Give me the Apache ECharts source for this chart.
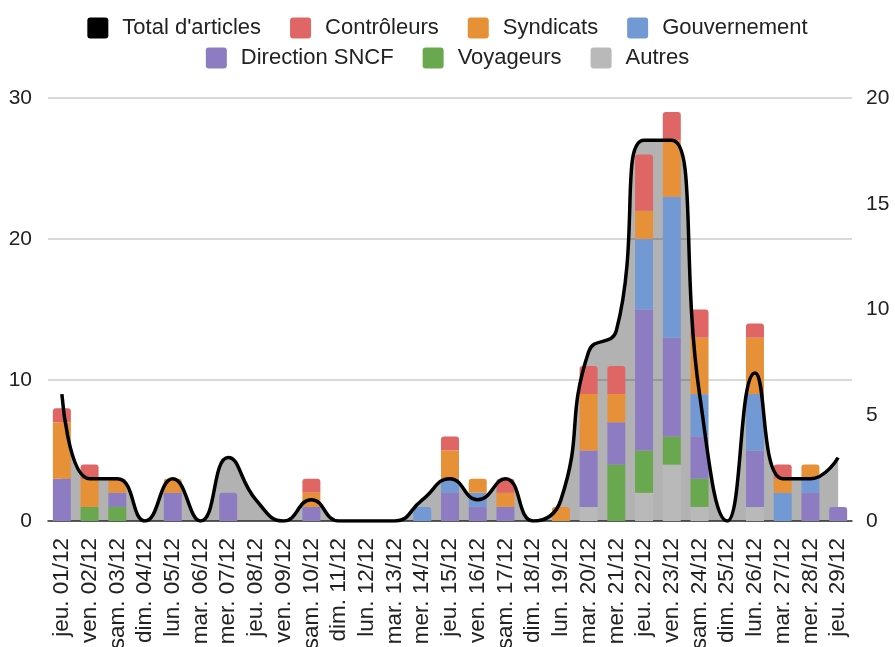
<!DOCTYPE html>
<html>
<head>
<meta charset="utf-8">
<script src="https://cdn.jsdelivr.net/npm/echarts@6/dist/echarts.min.js"></script>
<style>
html,body{margin:0;padding:0;background:#fff;}
#chart{width:895px;height:647px;}
</style>
</head>
<body>
<div id="chart"></div>
<script>
const categories = ["jeu. 01/12","ven. 02/12","sam. 03/12","dim. 04/12","lun. 05/12","mar. 06/12","mer. 07/12","jeu. 08/12","ven. 09/12","sam. 10/12","dim. 11/12","lun. 12/12","mar. 13/12","mer. 14/12","jeu. 15/12","ven. 16/12","sam. 17/12","dim. 18/12","lun. 19/12","mar. 20/12","mer. 21/12","jeu. 22/12","ven. 23/12","sam. 24/12","dim. 25/12","lun. 26/12","mar. 27/12","mer. 28/12","jeu. 29/12"];

const totalArticles = [6,2,2,0,2,0,3,1,0,1,0,0,0,1,2,1,2,0,1,8,9,18,18,6,0,7,2,2,3];

const controleurs  = [1,1,0,0,0,0,0,0,0,1,0,0,0,0,1,0,1,0,0,2,2,4,2,2,0,1,1,0,0];
const syndicats    = [4,2,1,0,1,0,0,0,0,1,0,0,0,0,2,1,1,0,1,4,2,2,4,4,0,4,1,1,0];
const gouvernement = [0,0,0,0,0,0,0,0,0,0,0,0,0,1,1,1,0,0,0,0,0,5,10,3,0,4,2,1,0];
const direction    = [3,0,1,0,2,0,2,0,0,1,0,0,0,0,2,1,1,0,0,4,3,10,7,3,0,4,0,2,1];
const voyageurs    = [0,1,1,0,0,0,0,0,0,0,0,0,0,0,0,0,0,0,0,0,4,3,2,2,0,0,0,0,0];
const autres       = [0,0,0,0,0,0,0,0,0,0,0,0,0,0,0,0,0,0,0,1,0,2,4,1,0,1,0,0,0];

const leftTicks = {min: 0, max: 30, interval: 10};
const rightTicks = {min: 0, max: 20, interval: 5};

const FONT = "'Liberation Sans', Arial, sans-serif";

// bottom-to-top stacking order
const stackDefs = [
  {name: 'Autres', data: autres, color: '#b9b9b9'},
  {name: 'Voyageurs', data: voyageurs, color: '#6aa84f'},
  {name: 'Direction SNCF', data: direction, color: '#8e7cc3'},
  {name: 'Gouvernement', data: gouvernement, color: '#7299d4'},
  {name: 'Syndicats', data: syndicats, color: '#e69138'},
  {name: 'Contrôleurs', data: controleurs, color: '#e06666'}
];

// find the top non-zero segment per category to round it
const topIndex = categories.map((c, i) => {
  let t = -1;
  stackDefs.forEach((s, k) => { if (s.data[i] > 0) t = k; });
  return t;
});

const barSeries = stackDefs.map((s, k) => ({
  name: s.name,
  type: 'bar',
  stack: 'actors',
  yAxisIndex: 0,
  barWidth: 18,
  z: 2,
  itemStyle: {color: s.color},
  emphasis: {disabled: true},
  data: s.data.map((v, i) => ({
    value: v,
    itemStyle: topIndex[i] === k ? {borderRadius: [3, 3, 0, 0]} : {}
  }))
}));

const chart = echarts.init(document.getElementById('chart'), null, {renderer: 'canvas'});

const squareIcon = 'path://M3,0H18A3,3 0 0 1 21,3V18A3,3 0 0 1 18,21H3A3,3 0 0 1 0,18V3A3,3 0 0 1 3,0Z';

const legendCommon = {
  left: 'center',
  icon: squareIcon,
  itemWidth: 21,
  itemHeight: 21,
  itemGap: 29,
  selectedMode: false,
  textStyle: {fontSize: 22, color: '#222', fontFamily: FONT, padding: [0, 0, 0, 9]}
};

chart.setOption({
  animation: false,
  textStyle: {fontFamily: FONT},
  legend: [
    Object.assign({top: 12, data: ["Total d'articles", 'Contrôleurs', 'Syndicats', 'Gouvernement']}, legendCommon),
    Object.assign({top: 42, data: ['Direction SNCF', 'Voyageurs', 'Autres']}, legendCommon)
  ],
  grid: {left: 48, right: 43, top: 98, bottom: 126, containLabel: false, outerBoundsMode: 'none'},
  xAxis: {
    type: 'category',
    data: categories,
    boundaryGap: true,
    axisLine: {lineStyle: {color: '#333', width: 1.5}},
    axisTick: {alignWithLabel: true, length: 8, lineStyle: {color: '#333', width: 1.5}},
    axisLabel: {rotate: 90, interval: 0, fontSize: 22.5, color: '#222', margin: 17, fontFamily: FONT}
  },
  yAxis: [
    {
      type: 'value',
      min: leftTicks.min, max: leftTicks.max, interval: leftTicks.interval,
      axisLine: {show: false}, axisTick: {show: false},
      splitLine: {lineStyle: {color: '#cccccc', width: 1.5}},
      axisLabel: {fontSize: 21, color: '#222', margin: 16, fontFamily: FONT}
    },
    {
      type: 'value',
      min: rightTicks.min, max: rightTicks.max, interval: rightTicks.interval,
      axisLine: {show: false}, axisTick: {show: false},
      splitLine: {show: false},
      axisLabel: {fontSize: 21, color: '#222', margin: 14, fontFamily: FONT}
    }
  ],
  series: [
    {
      name: "Total d'articles",
      type: 'line',
      yAxisIndex: 1,
      smooth: 0.5,
      showSymbol: false,
      z: 5,
      itemStyle: {color: '#000'},
      lineStyle: {color: '#000', width: 3.5},
      emphasis: {disabled: true},
      data: totalArticles
    },
    {
      name: "Total d'articles",
      type: 'line',
      yAxisIndex: 1,
      smooth: 0.5,
      showSymbol: false,
      z: 0,
      itemStyle: {color: '#000'},
      lineStyle: {width: 0},
      areaStyle: {color: 'rgba(0,0,0,0.3)', opacity: 1},
      emphasis: {disabled: true},
      data: totalArticles
    }
  ].concat(barSeries)
});
</script>
</body>
</html>
